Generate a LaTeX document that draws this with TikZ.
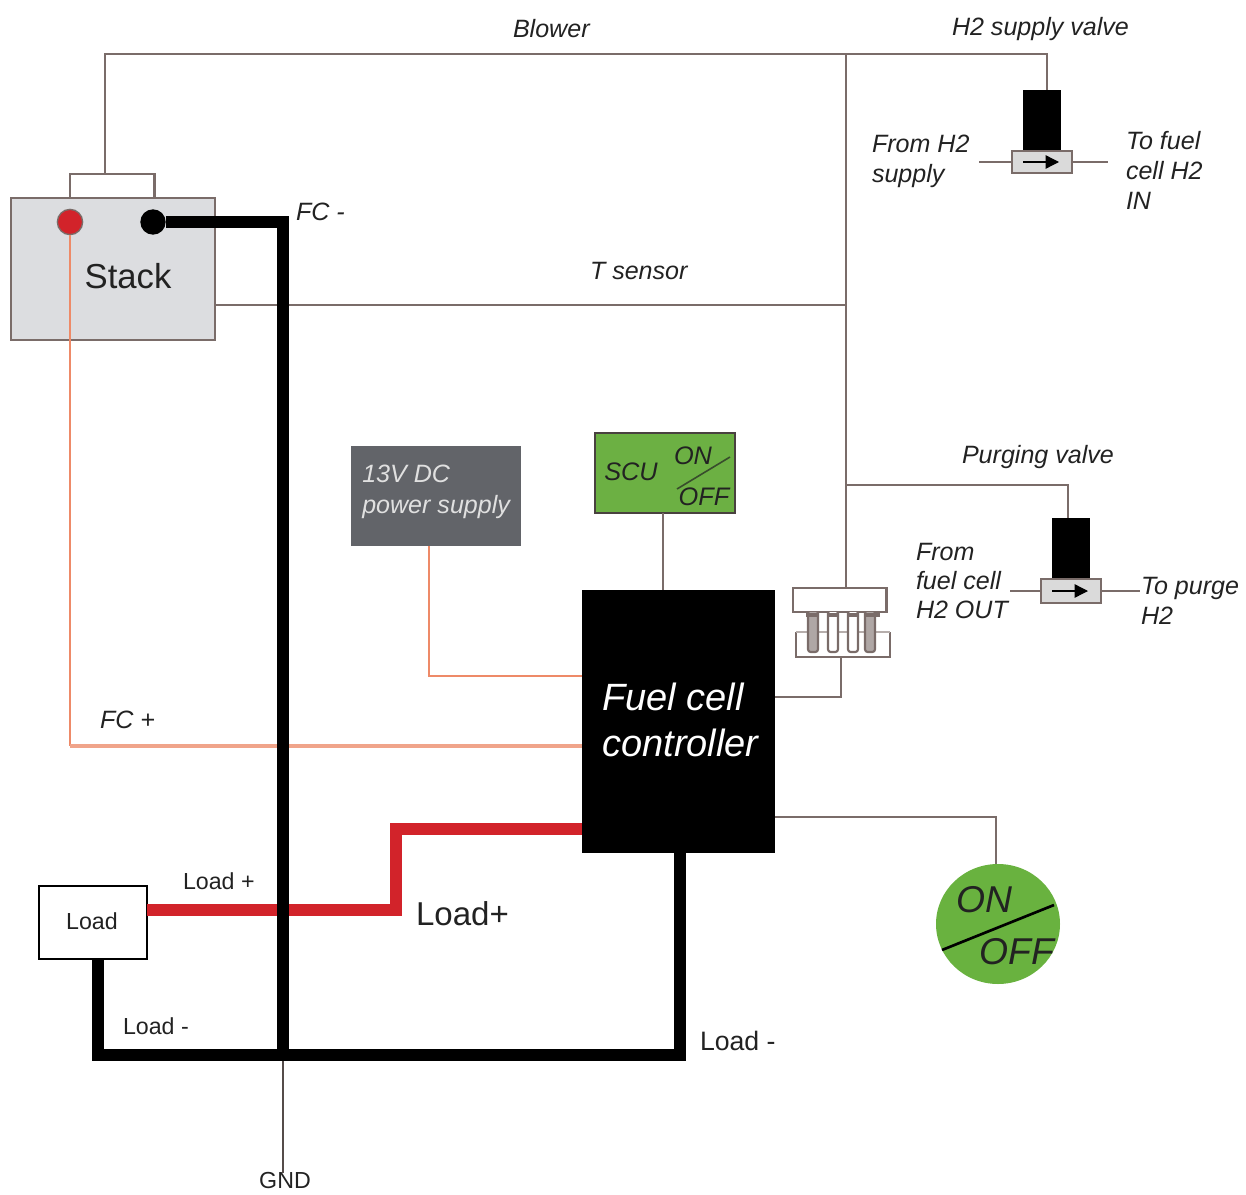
\documentclass[tikz,border=0pt]{standalone}
\usepackage{fontspec}
\setmainfont{Liberation Sans}
\usetikzlibrary{arrows.meta,calc,shapes.geometric}
\definecolor{wire}{HTML}{7A6C69}
\definecolor{salmon}{HTML}{F0A48A}
\definecolor{orangew}{HTML}{EE8A68}
\definecolor{redw}{HTML}{D2232A}
\definecolor{stackfill}{HTML}{DCDDE0}
\definecolor{psu}{HTML}{626469}
\definecolor{scug}{HTML}{6CB043}
\definecolor{ong}{HTML}{69B23F}
\definecolor{valveg}{HTML}{DADADA}
\definecolor{ink}{HTML}{222222}
\tikzset{
  x=0.75pt,y=-0.75pt,
  box/.style={rectangle,inner sep=0pt,outer sep=0pt},
  thin wire/.style={draw=wire,line width=2.2pt,line join=miter},
  gnd wire/.style={draw=wire!70!black,line width=1.2pt},
  heavy/.style={draw=black,line width=8.5pt,line join=miter},
  heavier/.style={draw=black,line width=9.5pt,line join=miter},
  redheavy/.style={draw=redw,line width=8.5pt,line join=miter},
  pale/.style={draw=salmon,line width=3pt,line join=miter},
  fine/.style={draw=orangew,line width=1.6pt,line join=miter},
  lab/.style={inner sep=0pt,outer sep=0pt,text=ink,font=\fontsize{18.8}{22}\selectfont\itshape,align=left,anchor=west},
  plain/.style={inner sep=0pt,outer sep=0pt,text=ink,font=\fontsize{17.4}{20}\selectfont,anchor=west},
  valvetip/.style={draw=black,line width=1pt,-{Triangle[length=10pt,width=10pt]}},
}
\begin{document}
\begin{tikzpicture}
\useasboundingbox (0,0) rectangle (1246,1195);
% --- nodes -------------------------------------------------
\node[box,draw=wire,line width=2.2pt,fill=stackfill,minimum width=153pt,minimum height=106.5pt,anchor=north west] (stack) at (11,198) {};
\node[box,draw=wire,line width=2pt,minimum width=63.5pt,minimum height=18pt,anchor=south west] (lid) at (70,198) {};
\node[circle,draw=wire,line width=1pt,fill=redw,minimum size=19pt,inner sep=0pt] (plus) at (70,222) {};
\node[circle,fill=black,minimum size=19pt,inner sep=0pt] (minus) at (153,222) {};
\node[inner sep=0pt,text=ink,font=\fontsize{26}{30}\selectfont] (stacklab) at (128,276) {Stack};
\node[box,fill=psu,minimum width=127.5pt,minimum height=75pt,anchor=north west] (psu) at (351,446) {};
\node[inner sep=0pt,text=white!88!black,align=left,anchor=west,font=\fontsize{18.8}{23.5}\selectfont\itshape] (psulab) at (362,492) {13V DC\\power supply};
\node[box,draw=wire!60!black,line width=2pt,fill=scug,minimum width=105pt,minimum height=60pt,anchor=north west] (scu) at (595,433) {};
\node[inner sep=0pt,text=ink,font=\fontsize{19}{22}\selectfont\itshape] (sculab) at (631,472) {SCU};
\node[inner sep=0pt,text=ink,font=\fontsize{19}{22}\selectfont\itshape] (sconlab) at (693,456) {ON};
\node[inner sep=0pt,text=ink,font=\fontsize{19}{22}\selectfont\itshape] (scofflab) at (704,497) {OFF};
\coordinate (scua) at (677,489);\coordinate (scub) at (730,457);
\draw[draw=ink!70!scug,line width=1.2pt] (scua) -- (scub);
\node[box,fill=black,minimum width=145pt,minimum height=197pt,anchor=north west] (fcc) at (582,590) {};
\node[inner sep=0pt,text=white,align=left,anchor=west,font=\fontsize{28.5}{34}\selectfont\itshape] (fcclab) at (602,720) {Fuel cell\\controller};
\node[box,draw=black,line width=1.5pt,fill=white,minimum width=81pt,minimum height=55pt,anchor=north west] (load) at (39,886) {};
\node[inner sep=0pt,text=ink,font=\fontsize{17.4}{20}\selectfont] (loadlab) at (92,921) {Load};
\node[ellipse,fill=ong,minimum width=93pt,minimum height=90pt,inner sep=0pt] (onoff) at (998,924) {};
\node[inner sep=0pt,text=ink,font=\fontsize{28}{32}\selectfont\itshape] (bigon) at (984,900) {ON};
\node[inner sep=0pt,text=ink,font=\fontsize{28}{32}\selectfont\itshape] (bigoff) at (1017,952) {OFF};
\coordinate (ona) at (942,950);\coordinate (onb) at (1054,905);
\draw[draw=black,line width=2pt] (ona) -- (onb);
% valves
\node[box,fill=black,minimum width=28pt,minimum height=45pt,anchor=north] (v1) at (1042,90) {};
\node[box,draw=wire,line width=2pt,fill=valveg,minimum width=45pt,minimum height=16.5pt,anchor=north] (v1b) at (1042,151) {};
\coordinate (v1l) at (979,162);\coordinate (v1r) at (1108,162);
\draw[thin wire,line width=1.4pt] (v1l |- v1b.west) -- (v1b.west) (v1b.east) -- (v1r |- v1b.east);
\coordinate (v1a) at ($(v1b.center)+(-19,0)$);\coordinate (v1c) at ($(v1b.center)+(17,0)$);
\draw[valvetip] (v1a) -- (v1c);
\node[box,fill=black,minimum width=28pt,minimum height=45pt,anchor=north] (v2) at (1071,518) {};
\node[box,draw=wire,line width=2pt,fill=valveg,minimum width=45pt,minimum height=18pt,anchor=north] (v2b) at (1071,579) {};
\coordinate (v2l) at (1010,591);\coordinate (v2r) at (1140,591);
\draw[thin wire,line width=1.4pt] (v2l |- v2b.west) -- (v2b.west) (v2b.east) -- (v2r |- v2b.east);
\coordinate (v2a) at ($(v2b.center)+(-19,0)$);\coordinate (v2c) at ($(v2b.center)+(17,0)$);
\draw[valvetip] (v2a) -- (v2c);
% relay
\node[box,draw=wire,line width=2.2pt,fill=white,minimum width=70pt,minimum height=18pt,anchor=north west] (rtop) at (793,588) {};
\coordinate (rbl) at (796,632);\coordinate (rbr) at (890,632);
\coordinate (rbld) at (796,657);\coordinate (rbrd) at (890,657);
\draw[thin wire] (rbl) -- (rbld) -- (rbrd) -- (rbr);
\draw[draw=wire!55,line width=2pt] (rbl) -- (rbr);
% fingers rising from the lower bar
\foreach \i/\xx/\ff in {1/813/wire!60,2/833/white,3/853/white,4/870/wire!60}{
  \coordinate (ua\i) at (\xx-5,612);
  \coordinate (ub\i) at (\xx-5,652);
  \coordinate (uc\i) at (\xx+5,652);
  \coordinate (ud\i) at (\xx+5,612);
  \fill[\ff,rounded corners=2pt] (ua\i) -- (ub\i) -- (uc\i) -- (ud\i) -- cycle;
  \draw[draw=wire,line width=1.6pt,rounded corners=2pt] (ua\i) -- (ub\i) -- (uc\i) -- (ud\i);
}
% meander caps between the fingers
\coordinate (ma) at (818,615);\coordinate (mb) at (828,615);
\coordinate (mc) at (838,615);\coordinate (md) at (848,615);
\coordinate (me) at (858,615);\coordinate (mf) at (865,615);
\coordinate (mg) at (806,615);\coordinate (mh) at (880,615);
\draw[draw=wire,line width=2.6pt] (mg) -- (ma) (mb) -- (mc) (md) -- (me) (mf) -- (mh);
\coordinate (rbot) at (841,657);
% --- labels -------------------------------------------------
\node[lab] (tblower) at (513,29) {Blower};
\node[lab] (th2) at (952,29) {H2 supply valve};
\node[lab,font=\fontsize{18.8}{22.5}\selectfont\itshape] (tfrom) at (872,161) {From H2\\supply};
\node[lab,font=\fontsize{18.8}{22.5}\selectfont\itshape] (tto) at (1126,170) {To fuel\\cell H2\\IN};
\node[lab] (tfc) at (296,212) {FC -};
\node[lab] (tsens) at (590,271) {T sensor};
\node[lab] (tpurge) at (962,457) {Purging valve};
\node[lab,font=\fontsize{18.8}{21.5}\selectfont\itshape] (tfromc) at (916,581) {From\\fuel cell\\H2 OUT};
\node[lab,font=\fontsize{18.8}{22.5}\selectfont\itshape] (ttop) at (1141,601) {To purge\\H2};
\node[lab] (tfcp) at (100,720) {FC +};
\node[plain] (tlp) at (183,881) {Load +};
\node[plain] (tlm) at (123,1026) {Load -};
\node[plain,font=\fontsize{20}{24}\selectfont] (tlm2) at (700,1041) {Load -};
\node[plain,font=\fontsize{24.8}{28}\selectfont] (tlp2) at (416,914) {Load+};
\node[plain,anchor=center] (tgnd) at (285,1181) {GND};
% --- connectors ---------------------------------------------
\coordinate (jtop) at (846,54);
\coordinate (jsens) at (846,305);
\coordinate (jpurge) at (846,485);
\coordinate (jgnd) at (283,1055);
\draw[thin wire] (lid.north -| 105,0) -- (105,54) -- (jtop) -- (1047,54) -- (v1.north -| 1047,0);
\draw[thin wire] (jtop) -- (jpurge) -- (rtop.north -| jtop);
\draw[thin wire] (stack.east |- jsens) -- (jsens);
\draw[thin wire] (jpurge) -- (1068,485) -- (v2.north -| 1068,0);
\draw[thin wire] (scu.south -| 663,0) -- (fcc.north -| 663,0);
\draw[thin wire] (fcc.east |- 0,697) -- (841,697) -- (rbot);
\draw[thin wire] (fcc.east |- 0,817) -- (996,817) -- (onoff.north -| 996,0);
\draw[fine] (plus) -- (70,746);
\draw[pale] (70,746) -- (fcc.west |- 0,746);
\draw[fine] (psu.south -| 429,0) -- (429,676) -- (fcc.west |- 0,676);
\draw[gnd wire] (jgnd) -- (tgnd.north -| jgnd);
\draw[redheavy] (load.east |- 0,910) -- (396,910) -- (396,829) -- (fcc.west |- 0,829);
\draw[heavy] (minus) -- (283,222) -- (jgnd);
\draw[heavier] (load.south -| 98,0) -- (98,1055) -- (jgnd) -- (680,1055) -- (fcc.south -| 680,0);
\end{tikzpicture}
\end{document}
